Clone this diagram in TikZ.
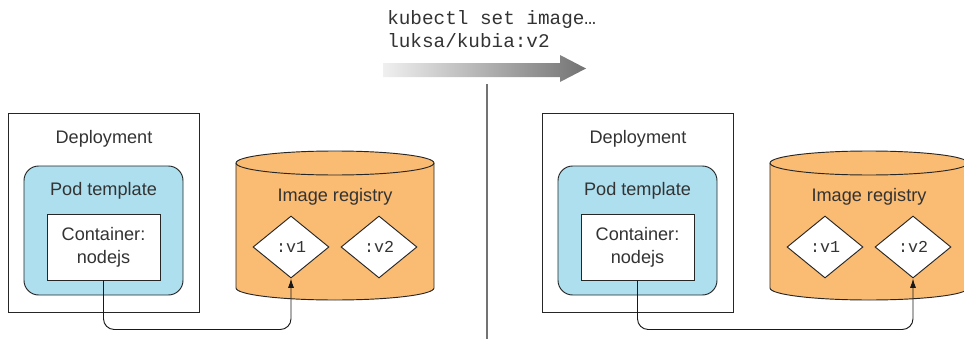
\documentclass[tikz,border=0pt]{standalone}
\usepackage{fontspec}
\setmainfont{Liberation Sans}
\setmonofont{Liberation Mono}
\usetikzlibrary{shapes.geometric,arrows.meta,positioning}

\definecolor{podblue}{HTML}{ADDFEF}
\definecolor{regorange}{HTML}{FABB73}
\definecolor{inkgray}{HTML}{333333}

\tikzset{
  box/.style={draw=black!85, line width=0.7pt, fill=white, inner sep=0pt},
  podbox/.style={box, fill=podblue, rounded corners=11pt},
  lbl/.style={font=\fontsize{13.6pt}{17.5pt}\selectfont, text=inkgray, align=center},
  tag/.style={diamond, draw=black!85, line width=0.7pt, fill=white, inner sep=0pt,
    minimum width=57pt, minimum height=46.5pt,
    font=\ttfamily\fontsize{12.5pt}{14pt}\selectfont, text=inkgray},
  reg/.style={draw=black!85, line width=0.7pt, fill=regorange},
  link/.style={draw=black!90, line width=0.7pt, rounded corners=8pt,
    -{Latex[length=7pt,width=4.5pt]}}
}

\begin{document}
\begin{tikzpicture}[x=0.75pt, y=-0.75pt]
\clip (0,0) rectangle (964,339);

% Command
\node (cmd) [anchor=west, align=left, inner sep=0pt, text=inkgray,
  font=\ttfamily\fontsize{14.5pt}{17.25pt}\selectfont] at (387,29.5)
  {kubectl set image…\\luksa/kubia:v2};
\shade[left color=black!6, right color=black!55]
  (383,63) -- (560,63) -- (560,55) -- (586,68.5) -- (560,82) -- (560,77) -- (383,77) -- cycle;

% Divider
\draw[black!55, line width=0.8pt] (487,84) -- (487,339);

% Before
\node (dep1) [box, minimum width=143.25pt, minimum height=149.25pt] at (103.5,212.5) {};
\node (dep1lbl) [lbl] at (104,138.5) {Deployment};
\node (pod1) [podbox, minimum width=119.25pt, minimum height=96.75pt] at (103.5,230.5) {};
\node (pod1lbl) [lbl] at (103.5,191) {Pod template};
\node (cont1) [box, lbl, minimum width=84.75pt, minimum height=49.5pt] at (103.5,247) {Container:\\nodejs};

\path[reg] (236,163) -- (236,288) arc[start angle=180, end angle=0, x radius=99, y radius=12]
  -- (434,163) arc[start angle=0, end angle=-180, x radius=99, y radius=12] -- cycle;
\draw[reg, fill=none] (236,163) arc[start angle=180, end angle=0, x radius=99, y radius=12];
\node (reg1lbl) [lbl] at (335,197) {Image registry};
\node (v1a) [tag] at (291,247) {:v1};
\node (v2a) [tag] at (379,247) {:v2};

\draw[link] (cont1.south) -- ++(0,49) -| (v1a.south);

% After
\node (dep2) [box, minimum width=143.25pt, minimum height=149.25pt] at (637.5,212.5) {};
\node (dep2lbl) [lbl] at (638,138.5) {Deployment};
\node (pod2) [podbox, minimum width=119.25pt, minimum height=96.75pt] at (637.5,230.5) {};
\node (pod2lbl) [lbl] at (637.5,191) {Pod template};
\node (cont2) [box, lbl, minimum width=84.75pt, minimum height=49.5pt] at (637.5,247) {Container:\\nodejs};

\path[reg] (770,163) -- (770,288) arc[start angle=180, end angle=0, x radius=99, y radius=12]
  -- (968,163) arc[start angle=0, end angle=-180, x radius=99, y radius=12] -- cycle;
\draw[reg, fill=none] (770,163) arc[start angle=180, end angle=0, x radius=99, y radius=12];
\node (reg2lbl) [lbl] at (869,197) {Image registry};
\node (v1b) [tag] at (825,247) {:v1};
\node (v2b) [tag] at (913,247) {:v2};

\draw[link] (cont2.south) -- ++(0,49) -| (v2b.south);
\end{tikzpicture}
\end{document}
